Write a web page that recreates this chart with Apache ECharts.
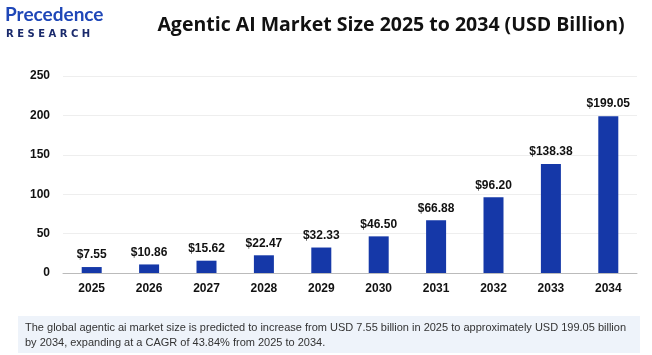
<!DOCTYPE html>
<html><head><meta charset="utf-8">
<script src="https://cdn.jsdelivr.net/npm/echarts@6/dist/echarts.min.js"></script>
<style>html,body{margin:0;padding:0;background:#fff;}#c{width:652px;height:355px;}</style>
</head><body><div id="c"></div>
<script>
const categories = ['2025','2026','2027','2028','2029','2030','2031','2032','2033','2034'];
const values = [7.55, 10.86, 15.62, 22.47, 32.33, 46.50, 66.88, 96.20, 138.38, 199.05];
const yTicks = [0, 50, 100, 150, 200, 250];
const titleText = 'Agentic AI Market Size 2025 to 2034 (USD Billion)';
const footText = 'The global agentic ai market size is predicted to increase from USD 7.55 billion in 2025 to approximately USD 199.05 billion\nby 2034, expanding at a CAGR of 43.84% from 2025 to 2034.';

const chart = echarts.init(document.getElementById('c'));
chart.setOption({
  backgroundColor: '#fff',
  animation: false,
  title: {
    text: titleText, left: 386, top: 10, textAlign: 'center',
    textStyle: {fontFamily: 'Open Sans', fontWeight: 'bold', fontSize: 19.5, color: '#111'}
  },
  graphic: [
    {type: 'text', left: 5, top: 5, style: {text: 'Precedence', fontFamily: 'Lato', fontSize: 19, fontWeight: 'bold', fill: '#1f47b8'}},
    {type: 'text', left: 6, top: 29, style: {text: 'R E S E A R C H', fontFamily: 'DejaVu Sans', fontSize: 10, fontWeight: 'bold', fill: '#1a2a6c'}},
    {type: 'rect', shape: {x: 18, y: 316, width: 622, height: 37}, style: {fill: '#eef3fa'}},
    {type: 'text', left: 25, top: 320, style: {text: footText, fontFamily: 'Liberation Sans', fontSize: 11, lineHeight: 15, fill: '#333'}}
  ],
  grid: {left: 63, right: 15, top: 76, bottom: 82},
  xAxis: {
    type: 'category', data: categories,
    axisLine: {lineStyle: {color: '#bbb'}},
    axisTick: {show: false},
    axisLabel: {color: '#111', fontWeight: 'bold', fontSize: 12, fontFamily: 'Liberation Sans', margin: 10}
  },
  yAxis: {
    type: 'value', min: yTicks[0], max: yTicks[yTicks.length-1], interval: yTicks[1]-yTicks[0],
    axisLine: {show: false}, axisTick: {show: false},
    splitLine: {lineStyle: {color: '#eee'}},
    axisLabel: {color: '#111', fontWeight: 'bold', fontSize: 12, fontFamily: 'Liberation Sans', margin: 13}
  },
  series: [{
    type: 'bar', data: values, barWidth: 20,
    itemStyle: {color: '#1538a8'},
    label: {show: true, position: 'top', distance: 6, formatter: p => '$' + p.value.toFixed(2),
      color: '#111', fontWeight: 'bold', fontSize: 12, fontFamily: 'Liberation Sans'}
  }]
});
</script></body></html>
